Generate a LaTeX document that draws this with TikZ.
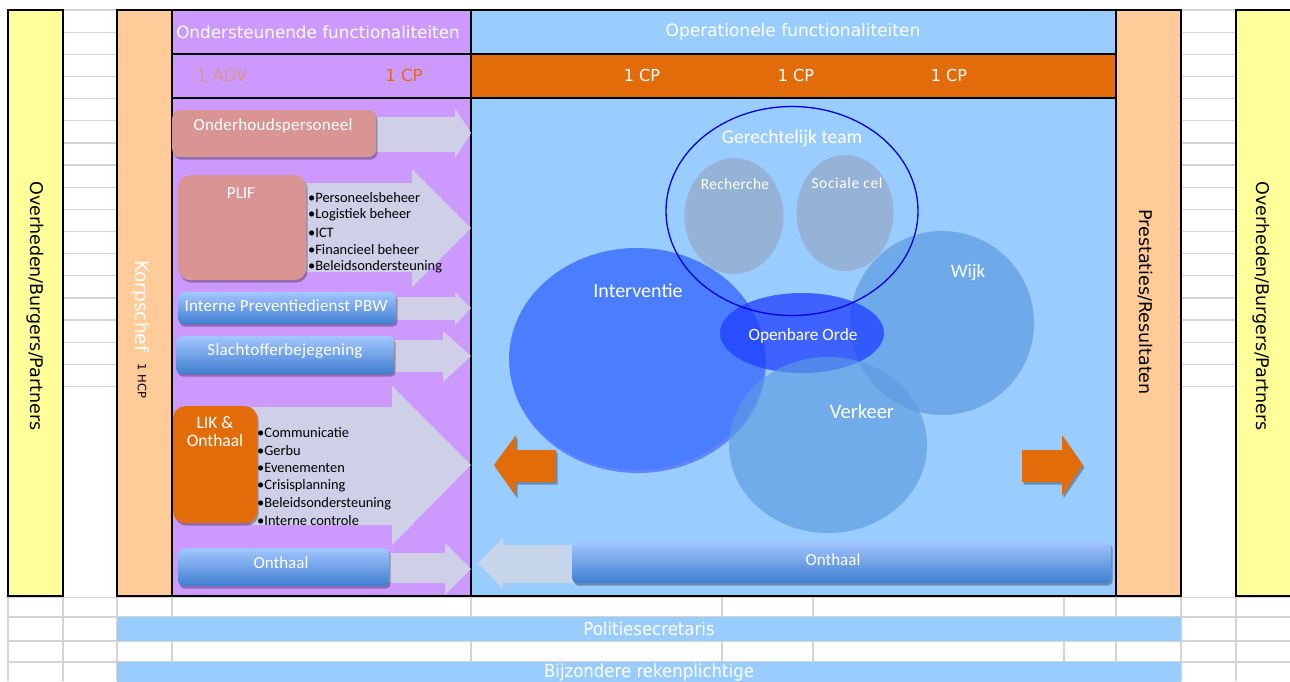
\documentclass[tikz,border=0pt]{standalone}
\usepackage{fontspec}
\setmainfont{Carlito}
\newfontfamily\verd{DejaVu Sans}
\usetikzlibrary{shapes.geometric,shadows}
\definecolor{ylw}{HTML}{FFFF99}
\definecolor{peach}{HTML}{FFCC99}
\definecolor{purp}{HTML}{CC99FF}
\definecolor{lblue}{HTML}{99CCFF}
\definecolor{orng}{HTML}{E26B0A}
\definecolor{gridc}{HTML}{D4D4D4}
\definecolor{lav}{HTML}{CFCFE8}
\definecolor{pinkb}{HTML}{D99594}
\definecolor{gbtop}{HTML}{A3C6FF}
\definecolor{gbbot}{HTML}{3F7ED0}
\definecolor{intv}{HTML}{4A7EFF}
\definecolor{ordeb}{HTML}{1F3FFF}
\definecolor{wijkc}{HTML}{5D9BE0}
\definecolor{grayb}{HTML}{95B3D7}
\definecolor{gerl}{HTML}{0000E0}
\definecolor{arrgray}{HTML}{C6D5EA}
\definecolor{advc}{HTML}{D9958F}
\definecolor{cpor}{HTML}{E36C09}
\newcommand\myfs[1]{\fontsize{#1}{#1}\selectfont}
\newcommand\lsp[1]{\addfontfeature{LetterSpace=#1}}
\tikzset{
  cell/.style={draw=black, line width=2pt, anchor=north west, inner sep=0pt, outer sep=0pt},
  gridl/.style={draw=gridc, line width=1.3pt},
  softshadow/.style={drop shadow={shadow xshift=1.5pt, shadow yshift=-2.5pt, opacity=0.3, fill=black}},
  pinkbox/.style={fill=pinkb, rounded corners=8pt, anchor=north west, inner sep=0pt, softshadow},
  gbox/.style={top color=gbtop, bottom color=gbbot, rounded corners=5pt, anchor=north west, inner sep=0pt, softshadow},
  wtxt/.style={inner sep=0pt, text=white},
  btxt/.style={inner sep=0pt, text=black},
  bul/.style={inner sep=0pt, text=black, anchor=west, font=\myfs{14.4}},
  blob/.style={ellipse, inner sep=0pt},
}
\begin{document}
\begin{tikzpicture}[x=1pt,y=-1pt]
\useasboundingbox (0,0) rectangle (1290,681);
\clip (0,0) rectangle (1290,681);
% spreadsheet grid
\foreach \k in {0,...,17} {
  \draw[gridl] (63,{10+22.15*\k}) -- (117,{10+22.15*\k});
  \draw[gridl] (1181,{10+22.15*\k}) -- (1236,{10+22.15*\k});
}
\foreach \yy in {597.5,617,641,662} { \draw[gridl] (8,\yy) -- (1290,\yy); }
\foreach \xx in {8,63,117,172,471,722,813,1064,1116,1181,1236} { \draw[gridl] (\xx,596) -- (\xx,681); }
% bottom bars
\node[fill=lblue, anchor=north west, minimum width=1064, minimum height=24, inner sep=0pt] (polsec) at (117,617) {};
\node[fill=lblue, anchor=north west, minimum width=1064, minimum height=30, inner sep=0pt] (bijz) at (117,662) {};
\node[wtxt, font=\verd\myfs{18}, xscale=0.92] (polsect) at (649,629) {Politiesecretaris};
\node[wtxt, font=\verd\myfs{18}, xscale=0.92] (bijzt) at (649,673) {Bijzondere rekenplichtige};
% main cells
\node[cell, fill=ylw, minimum width=55, minimum height=586] (lyel) at (8,10) {};
\node[cell, fill=peach, minimum width=55, minimum height=586] (korps) at (117,10) {};
\node[cell, fill=purp, minimum width=299, minimum height=44] (ondh) at (172,10) {};
\node[cell, fill=purp, minimum width=299, minimum height=44] (ondc) at (172,54) {};
\node[cell, fill=purp, minimum width=299, minimum height=498] (ondb) at (172,98) {};
\node[cell, fill=lblue, minimum width=645, minimum height=44] (oph) at (471,10) {};
\node[cell, fill=orng, minimum width=645, minimum height=44] (opc) at (471,54) {};
\node[cell, fill=lblue, minimum width=645, minimum height=498] (opb) at (471,98) {};
\node[cell, fill=peach, minimum width=65, minimum height=586] (prest) at (1116,10) {};
\node[cell, fill=ylw, minimum width=56, minimum height=586] (ryel) at (1236,10) {};
% header texts
\node[wtxt, font=\verd\myfs{16.8}] (ondht) at (318,32) {Ondersteunende functionaliteiten};
\node[wtxt, font=\verd\myfs{17}, xscale=1.0] (opht) at (793,32) {Operationele functionaliteiten};
\node[inner sep=0pt, text=advc, font=\verd\myfs{16.6}] (adv) at (222,75) {1 ADV};
\node[inner sep=0pt, text=cpor, font=\verd\myfs{16.6}] (cp0) at (404,75) {1 CP};
\node[wtxt, font=\verd\myfs{16.5}, xscale=0.97] (cp1) at (642,75) {1 CP};
\node[wtxt, font=\verd\myfs{16.5}, xscale=0.97] (cp2) at (796,75) {1 CP};
\node[wtxt, font=\verd\myfs{16.5}, xscale=0.97] (cp3) at (949,75) {1 CP};
% side texts
\node[btxt, rotate=-90, font=\verd\myfs{17.5}, xscale=1.0] (lyelt) at (35,306) {Overheden/Burgers/Partners};
\node[btxt, rotate=-90, font=\verd\myfs{17.5}, xscale=1.0] (ryelt) at (1261,306) {Overheden/Burgers/Partners};
\node[btxt, rotate=-90, font=\verd\myfs{17.5}, xscale=1.0] (prestt) at (1145,302) {Prestaties/Resultaten};
\node[wtxt, rotate=-90, font=\verd\myfs{18.5}] (korpst) at (141,306) {Korpschef};
\node[btxt, rotate=-90, font=\verd\myfs{11.5}] (hcp) at (142,381) {1 HCP};
% lavender block arrows (purple area)
\fill[lav] (180,117) -- (455,117) -- (455,108) -- (471,133) -- (455,158) -- (455,152) -- (180,152) -- cycle;
\fill[lav] (290,183) -- (412,183) -- (412,169) -- (471,228) -- (412,287) -- (412,272) -- (290,272) -- cycle;
\fill[lav] (380,297) -- (455,297) -- (455,292) -- (471,308) -- (455,325) -- (455,320) -- (380,320) -- cycle;
\fill[lav] (380,340) -- (443,340) -- (443,331) -- (471,356) -- (443,382) -- (443,372) -- (380,372) -- cycle;
\fill[lav] (250,407) -- (392,407) -- (392,386) -- (471,465) -- (392,545) -- (392,525) -- (250,525) -- cycle;
\fill[lav] (380,553) -- (445,553) -- (445,543) -- (471,569) -- (445,595) -- (445,583) -- (380,583) -- cycle;
% purple-area boxes
\node[pinkbox, minimum width=204, minimum height=47] (onderh) at (172,110) {};
\node[wtxt, font=\myfs{17}\lsp{1.5}] (onderht) at (273,126) {Onderhoudspersoneel};
\node[pinkbox, rounded corners=12pt, minimum width=128, minimum height=105] (plif) at (178,175) {};
\node[wtxt, font=\myfs{17}] (pliftt) at (241,193) {PLIF};
\foreach \t [count=\i] in {Personeelsbeheer,Logistiek beheer,ICT,Financieel beheer,Beleidsondersteuning} {
  \node[bul] (plifb\i) at (308,{198+17.2*(\i-1)}) {•\t};
}
\node[gbox, minimum width=218, minimum height=32] (ipd) at (178,292) {};
\node[wtxt, font=\myfs{17}\lsp{1}] (ipdt) at (286,306) {Interne Preventiedienst PBW};
\node[gbox, minimum width=218, minimum height=38] (slacht) at (176,336) {};
\node[wtxt, font=\myfs{17}\lsp{1.5}] (slachtt) at (285,351) {Slachtofferbejegening};
\node[pinkbox, fill=orng, rounded corners=12pt, minimum width=84, minimum height=117] (lik) at (173,406) {};
\node[wtxt, font=\myfs{17.5}] (likt1) at (215,423) {LIK \&};
\node[wtxt, font=\myfs{17.5}] (likt2) at (215,440) {Onthaal};
\foreach \t [count=\i] in {Communicatie,Gerbu,Evenementen,Crisisplanning,Beleidsondersteuning,Interne controle} {
  \node[bul] (likb\i) at (257,{433+17.6*(\i-1)}) {•\t};
}
\node[gbox, minimum width=211, minimum height=38] (onthl) at (178,548) {};
\node[wtxt, font=\myfs{17}] (onthlt) at (281,563) {Onthaal};
% blue area
\fill[arrgray] (575,545) -- (503,545) -- (503,538) -- (478,563) -- (503,589) -- (503,583) -- (575,583) -- cycle;
\node[gbox, minimum width=539, minimum height=42] (onthr) at (572,541) {};
\node[wtxt, font=\myfs{17}] (onthrt) at (833,560) {Onthaal};
\fill[orng, softshadow] (556,450) -- (516,450) -- (516,435) -- (494,465) -- (516,496) -- (516,482) -- (556,482) -- cycle;
\fill[orng, softshadow] (1022,450) -- (1062,450) -- (1062,435) -- (1083,465) -- (1062,496) -- (1062,482) -- (1022,482) -- cycle;
\node[blob, fill=intv, minimum width=256, minimum height=222, drop shadow={shadow xshift=1pt, shadow yshift=-3pt, opacity=0.35, fill=blue}] (interv) at (637,359) {};
\node[blob, fill=wijkc, fill opacity=0.7, draw=gray!60, draw opacity=0.5, minimum width=184, minimum height=184] (wijk) at (942,323) {};
\node[blob, fill=ordeb, fill opacity=0.75, minimum width=164, minimum height=80] (orde) at (802,333) {};
\node[blob, fill=wijkc, fill opacity=0.65, minimum width=198, minimum height=176] (verk) at (828,445) {};
\node[blob, fill=grayb, minimum width=99, minimum height=116] (rech) at (734,216) {};
\node[blob, fill=grayb, minimum width=97, minimum height=116] (soc) at (845,213) {};
\node[blob, draw=gerl, line width=1.3pt, minimum width=252, minimum height=209] (ger) at (792,211) {};
\node[wtxt, font=\myfs{19.5}] (gert) at (792,138) {Gerechtelijk team};
\node[wtxt, font=\myfs{15.5}\lsp{2}] (recht) at (735,184) {Recherche};
\node[wtxt, font=\myfs{15.5}\lsp{4}] (soct) at (847,183) {Sociale cel};
\node[wtxt, font=\myfs{20}] (intvt) at (638,291) {Interventie};
\node[wtxt, font=\myfs{17.3}] (ordet) at (803,336) {Openbare Orde};
\node[wtxt, font=\myfs{19}] (wijkt) at (968,273) {Wijk};
\node[wtxt, font=\myfs{20.5}] (verkt) at (862,411) {Verkeer};
\end{tikzpicture}
\end{document}
